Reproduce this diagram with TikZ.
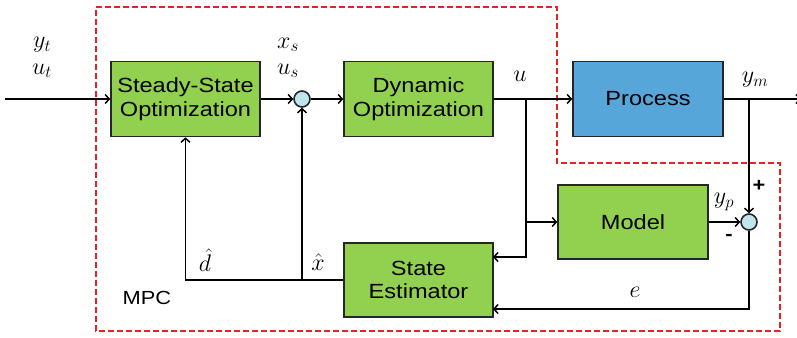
\documentclass[tikz,border=0pt]{standalone}
\usepackage{fix-cm}
\usepackage{fontspec}
\setmainfont[FakeStretch=1.15]{Liberation Sans}
\usetikzlibrary{arrows.meta}
\definecolor{boxgreen}{HTML}{92D050}
\definecolor{procblue}{HTML}{56A6DA}
\definecolor{sumblue}{HTML}{BFE6EC}
\definecolor{mpcred}{HTML}{E02424}
\begin{document}
\begin{tikzpicture}[x=1pt,y=-1pt,
  blk/.style={draw=black!85, line width=1.6pt, fill=boxgreen, align=center,
    font=\fontsize{20.5}{23.5}\selectfont, inner sep=0pt},
  sumc/.style={circle, draw=black!85, line width=1.6pt, fill=sumblue, minimum size=16pt, inner sep=0pt},
  arr/.style={line width=1.5pt, -{Straight Barb[length=4pt,width=9pt]}},
  lbl/.style={font=\fontsize{24}{24}\selectfont, inner sep=0pt},
  sgn/.style={font=\bfseries\fontsize{19}{19}\selectfont, inner sep=0pt}]
\useasboundingbox (0,0) rectangle (797,337);
% MPC boundary
\draw[mpcred, line width=1.6pt, dash pattern=on 6pt off 3pt]
  (96,7) -- (557,7) -- (557,163) -- (780,163) -- (780,331) -- (96,331) -- cycle;
% blocks
\node[blk, minimum width=149pt, minimum height=75pt] (ss) at (185.5,99) {Steady-State\\Optimization};
\node[blk, minimum width=149pt, minimum height=75pt] (dyn) at (418.5,99) {Dynamic\\Optimization};
\node[blk, fill=procblue, minimum width=150pt, minimum height=75pt] (proc) at (648,99) {Process};
\node[blk, minimum width=150pt, minimum height=74pt] (model) at (633,222) {Model};
\node[blk, minimum width=149pt, minimum height=74pt] (est) at (418.5,280) {State\\Estimator};
\node[sumc] (s1) at (302,99) {};
\node[sumc] (s2) at (749,222) {};
% helper coordinates
\coordinate (in) at (5,99);
\coordinate (out) at (801,99);
\coordinate (ub) at (526,99);
\coordinate (yb) at (749,99);
\coordinate (estU) at (493,257);
\coordinate (estE) at (493,309);
\coordinate (xh) at (302,280);
% connectors
\draw[arr] (in) -- (ss.west);
\draw[arr] (ss.east) -- (s1.west);
\draw[arr] (s1.east) -- (dyn.west);
\draw[arr] (dyn.east) -- (proc.west);
\draw[arr] (proc.east) -- (out);
\draw[arr] (yb) -- (s2.north);
\draw[arr] (ub) |- (estU);
\draw[arr] (ub |- model.west) -- (model.west);
\draw[arr] (model.east) -- (s2.west);
\draw[arr] (s2.south) |- (estE);
\draw[arr] (est.west) -| (ss.south);
\draw[arr] (xh) -- (s1.south);
% labels
\node[lbl] (lyt) at (42,45) {$y_t$};
\node[lbl] (lut) at (42,71) {$u_t$};
\node[lbl] (lxs) at (288,45) {$x_s$};
\node[lbl] (lus) at (288,71) {$u_s$};
\node[lbl] (lu) at (520,76) {$u$};
\node[lbl] (lym) at (755,80) {$y_m$};
\node[lbl] (lyp) at (724,202) {$y_p$};
\node[sgn] (lplus) at (759,186) {+};
\node[sgn] (lminus) at (729,237) {-};
\node[lbl] (le) at (635,292) {$e$};
\node[lbl] (ldh) at (205,260) {$\hat{d}$};
\node[lbl] (lxh) at (318,262) {$\hat{x}$};
\node[font=\fontsize{19}{19}\selectfont, inner sep=0pt] (lmpc) at (147,298) {MPC};
\end{tikzpicture}
\end{document}
